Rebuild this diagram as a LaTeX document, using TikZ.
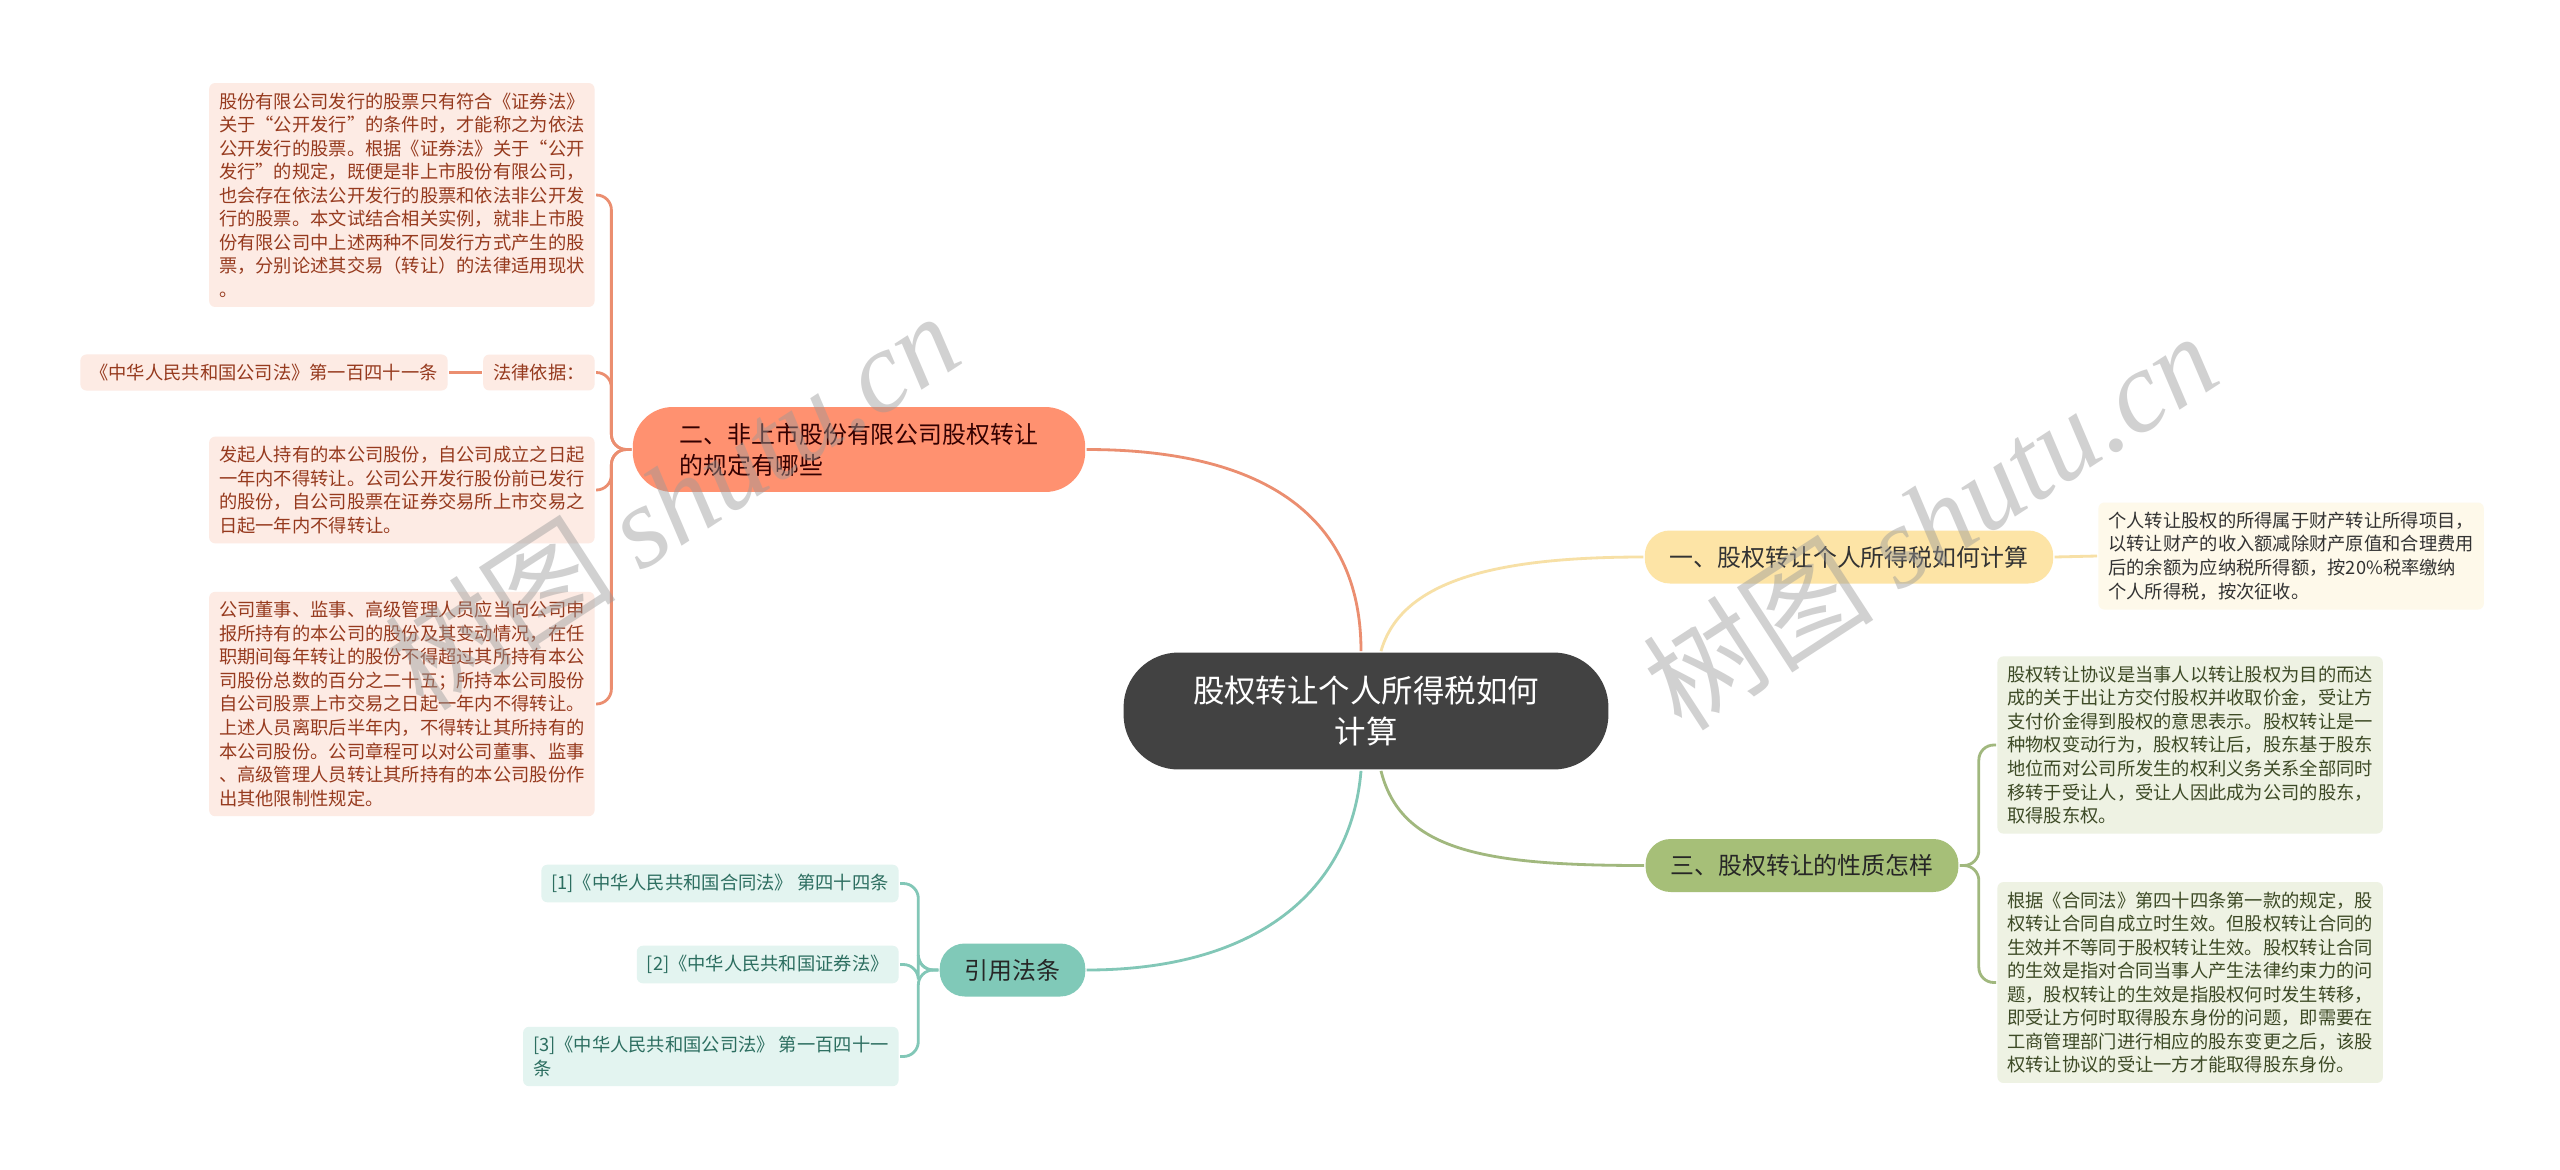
\documentclass[tikz,border=0pt]{standalone}
\usepackage{fontspec}
\setmainfont{Noto Sans CJK SC}
\newfontfamily\wmfont{Liberation Serif}
\usepackage{tikz}
\definecolor{ctrgray}{RGB}{66,66,66}
\definecolor{redpill}{RGB}{255,145,112}
\definecolor{redline}{RGB}{235,142,112}
\definecolor{redfill}{RGB}{253,235,228}
\definecolor{redtext}{RGB}{150,58,30}
\definecolor{yelpill}{RGB}{253,228,166}
\definecolor{yelline}{RGB}{247,224,166}
\definecolor{yelfill}{RGB}{254,249,234}
\definecolor{grnpill}{RGB}{166,191,120}
\definecolor{grnline}{RGB}{161,184,126}
\definecolor{grnfill}{RGB}{238,242,227}
\definecolor{grntext}{RGB}{61,74,38}
\definecolor{tealpill}{RGB}{128,201,184}
\definecolor{tealline}{RGB}{130,199,183}
\definecolor{tealfill}{RGB}{227,244,240}
\definecolor{tealtext}{RGB}{44,110,96}

\begin{document}
\begin{tikzpicture}[x=0.02cm, y=-0.02cm, line width=1.6pt,
    leaf/.style={rounded corners=0.12cm, inner xsep=0.2cm, inner ysep=0.19cm, align=left, font=\fontsize{10.4}{13.4}\selectfont},
    redleaf/.style={leaf, fill=redfill, text=redtext},
    yelleaf/.style={leaf, fill=yelfill, text=black!80},
    grnleaf/.style={leaf, fill=grnfill, text=grntext},
    tealleaf/.style={leaf, fill=tealfill, text=tealtext},
    pill/.style={rounded corners=0.5cm, minimum height=1.06cm, inner xsep=0.5cm, font=\fontsize{13.6}{17.6}\selectfont},
    wmark/.style={rotate=33, text=black!40, text opacity=0.45, font=\fontsize{66}{66}\selectfont}]
    \fill[white] (0,0) rectangle (2560,1170); 
    \useasboundingbox (0,0) rectangle (2560,1170); 
    \node[fill=ctrgray, text=white, rounded corners=1.1cm, minimum width=9.7cm, minimum height=2.34cm, align=center, font=\fontsize{17.9}{23.3}\selectfont] (ctr) at (1366,711) {股权转让个人所得税如何\\计算}; 
    \node[pill, fill=yelpill, text=black!80] (b1) at (1849,557) {一、股权转让个人所得税如何计算}; 
    \node[pill, fill=redpill, text=black!80!red, rounded corners=0.8cm, minimum height=1.7cm, inner xsep=0.94cm, align=left] (b2) at (859,449.5) {二、非上市股份有限公司股权转让\\的规定有哪些}; 
    \node[pill, fill=grnpill, text=black!85] (b3) at (1802,865.5) {三、股权转让的性质怎样}; 
    \node[pill, fill=tealpill, text=black!85] (b4) at (1012.5,970) {引用法条}; 
    \node[redleaf, anchor=east] (a1) at (596,195) {股份有限公司发行的股票只有符合《证券法》\\关于“公开发行”的条件时，才能称之为依法\\公开发行的股票。根据《证券法》关于“公开\\发行”的规定，既便是非上市股份有限公司，\\也会存在依法公开发行的股票和依法非公开发\\行的股票。本文试结合相关实例，就非上市股\\份有限公司中上述两种不同发行方式产生的股\\票，分别论述其交易（转让）的法律适用现状\\。}; 
    \node[redleaf, anchor=east] (a2) at (596,372.5) {法律依据：}; 
    \node[redleaf, anchor=east] (a2a) at (449,372.5) {《中华人民共和国公司法》第一百四十一条}; 
    \node[redleaf, anchor=east] (a3) at (596,490) {发起人持有的本公司股份，自公司成立之日起\\一年内不得转让。公司公开发行股份前已发行\\的股份，自公司股票在证券交易所上市交易之\\日起一年内不得转让。}; 
    \node[redleaf, anchor=east] (a4) at (596,704) {公司董事、监事、高级管理人员应当向公司申\\报所持有的本公司的股份及其变动情况，在任\\职期间每年转让的股份不得超过其所持有本公\\司股份总数的百分之二十五；所持本公司股份\\自公司股票上市交易之日起一年内不得转让。\\上述人员离职后半年内，不得转让其所持有的\\本公司股份。公司章程可以对公司董事、监事\\、高级管理人员转让其所持有的本公司股份作\\出其他限制性规定。}; 
    \node[yelleaf, anchor=west] (y1) at (2097,556) {个人转让股权的所得属于财产转让所得项目，\\以转让财产的收入额减除财产原值和合理费用\\后的余额为应纳税所得额，按20\%税率缴纳\\个人所得税，按次征收。}; 
    \node[grnleaf, anchor=west] (g1) at (1996,745) {股权转让协议是当事人以转让股权为目的而达\\成的关于出让方交付股权并收取价金，受让方\\支付价金得到股权的意思表示。股权转让是一\\种物权变动行为，股权转让后，股东基于股东\\地位而对公司所发生的权利义务关系全部同时\\移转于受让人，受让人因此成为公司的股东，\\取得股东权。}; 
    \node[grnleaf, anchor=west] (g2) at (1996,982.5) {根据《合同法》第四十四条第一款的规定，股\\权转让合同自成立时生效。但股权转让合同的\\生效并不等同于股权转让生效。股权转让合同\\的生效是指对合同当事人产生法律约束力的问\\题，股权转让的生效是指股权何时发生转移，\\即受让方何时取得股东身份的问题，即需要在\\工商管理部门进行相应的股东变更之后，该股\\权转让协议的受让一方才能取得股东身份。}; 
    \node[tealleaf, anchor=east] (t1) at (900,883.5) {[1]《中华人民共和国合同法》 第四十四条}; 
    \node[tealleaf, anchor=east] (t2) at (900,964.5) {[2]《中华人民共和国证券法》}; 
    \node[tealleaf, anchor=east] (t3) at (900,1056.5) {[3]《中华人民共和国公司法》 第一百四十一\\条}; 
    \draw[redline] ([xshift=-0.1cm]ctr.north) .. controls +(0,-140) and +(170,0) .. (b2.east); 
    \draw[yelline] ([xshift=0.3cm]ctr.north) .. controls +(20,-70) and +(-150,0) .. (b1.west); 
    \draw[tealline] ([xshift=-0.1cm]ctr.south) .. controls +(-10,120) and +(170,0) .. (b4.east); 
    \draw[grnline] ([xshift=0.3cm]ctr.south) .. controls +(20,80) and +(-160,0) .. (b3.west); 
    \foreach \n in {a1,a2,a3,a4}
        \draw[redline, rounded corners=0.3cm] (b2.west) -- ++(-20,0) |- (\n.east); 
    \draw[redline] (a2.west) -- (a2a.east); 
    \draw[yelline] (b1.east) -- (y1.west); 
    \foreach \n in {g1,g2}
        \draw[grnline, rounded corners=0.3cm] (b3.east) -- ++(19,0) |- (\n.west); 
    \foreach \n in {t1,t2,t3}
        \draw[tealline, rounded corners=0.3cm] (b4.west) -- ++(-20,0) |- (\n.east); 
    \node[wmark] (wm1) at (672,500) {树图 {\wmfont\itshape shutu.cn}}; 
    \node[wmark] (wm2) at (1930,520) {树图 {\wmfont\itshape shutu.cn}}; 
\end{tikzpicture}
\end{document}
